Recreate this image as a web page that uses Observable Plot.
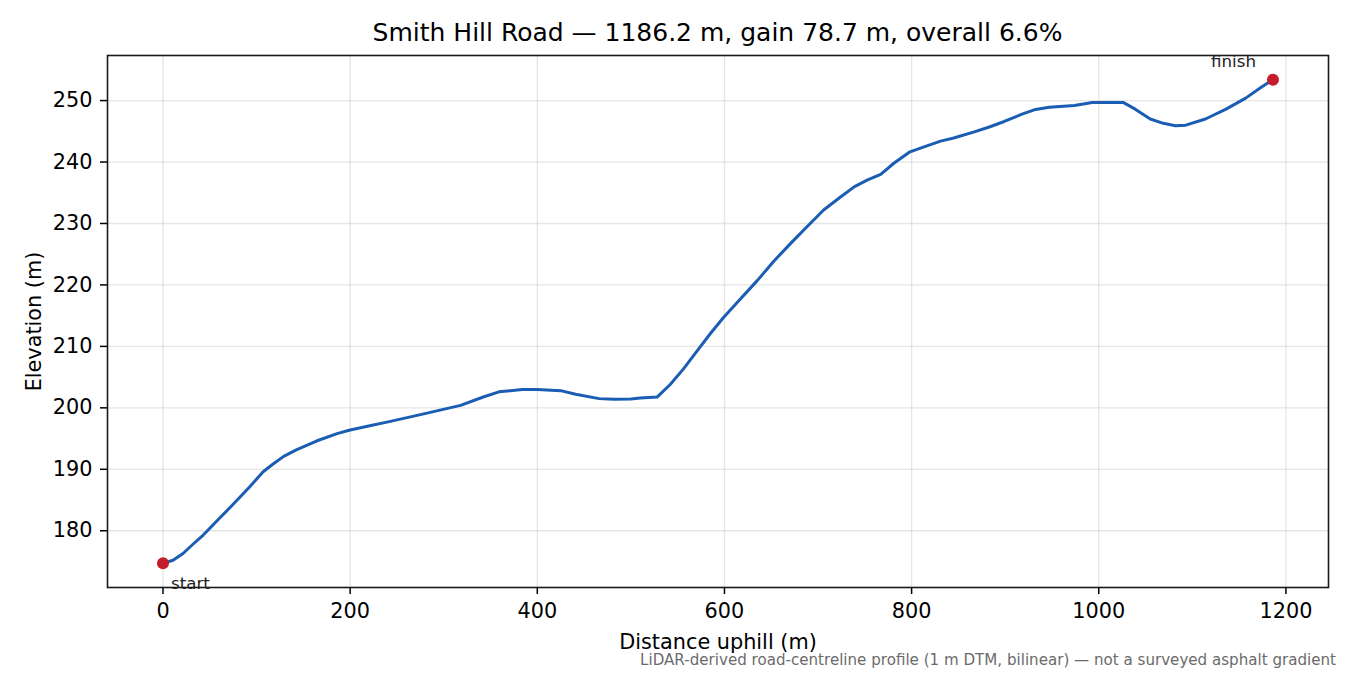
<!DOCTYPE html>
<html>
<head>
<meta charset="utf-8">
<script src="https://cdn.jsdelivr.net/npm/d3@7"></script>
<script src="https://cdn.jsdelivr.net/npm/@observablehq/plot@0.6"></script>
<style>
  html, body { margin: 0; padding: 0; background: #fff; }
  body { width: 1350px; height: 675px; overflow: hidden; font-family: "DejaVu Sans", sans-serif; position: relative; }
  #title { position: absolute; left: 107px; width: 1221px; top: 18px; text-align: center; font-size: 25px; color: #000; line-height: 30px; z-index: 2; white-space: nowrap; }
  #chart { position: absolute; left: 0; top: 40px; z-index: 1; }
  #caption { position: absolute; right: 14px; top: 651px; font-size: 15.1px; line-height: 18px; color: #6b6b6b; white-space: nowrap; z-index: 2; }
</style>
</head>
<body>
<div id="title">Smith Hill Road — 1186.2 m, gain 78.7 m, overall 6.6%</div>
<div id="chart"></div>
<div id="caption">LiDAR-derived road-centreline profile (1 m DTM, bilinear) — not a surveyed asphalt gradient</div>
<script>
const distance = [0, 10.7, 21.4, 32, 43, 57, 75, 93, 107, 118, 129, 143, 164, 186, 200, 221, 243, 281, 318, 343, 359, 384, 400, 425, 441, 466, 482, 500, 510, 528, 542, 556, 571, 585, 599, 617, 635, 653, 671, 689, 706, 724, 739, 753, 767, 781, 797.5, 814, 831, 845, 867, 883, 899, 918, 931, 947, 974, 993, 1007, 1026, 1039, 1055, 1069, 1082, 1093, 1114, 1136, 1157, 1174, 1186.2];
const elevation = [174.7, 175.2, 176.3, 177.8, 179.3, 181.5, 184.3, 187.2, 189.6, 190.9, 192.1, 193.2, 194.6, 195.8, 196.4, 197.1, 197.8, 199.1, 200.4, 201.8, 202.6, 203.0, 203.0, 202.8, 202.2, 201.5, 201.4, 201.45, 201.6, 201.75, 203.8, 206.3, 209.3, 212.1, 214.7, 217.7, 220.7, 223.9, 226.8, 229.6, 232.2, 234.3, 236.0, 237.1, 238.0, 239.8, 241.6, 242.5, 243.4, 243.9, 244.9, 245.7, 246.6, 247.8, 248.5, 248.9, 249.2, 249.7, 249.7, 249.7, 248.6, 247.0, 246.3, 245.9, 246.0, 247.0, 248.6, 250.4, 252.2, 253.4];
const xTicks = [0, 200, 400, 600, 800, 1000, 1200];
const yTicks = [180, 190, 200, 210, 220, 230, 240, 250];
const endpointLabels = ["start", "finish"];

const profile = distance.map((d, i) => ({d, e: elevation[i]}));
const first = profile[0], last = profile[profile.length - 1];
const endpoints = [
  {d: first.d, e: first.e, label: endpointLabels[0]},
  {d: last.d, e: last.e, label: endpointLabels[1]}
];
const xPad = (last.d - first.d) * 0.05;
const eMin = d3.min(elevation), eMax = d3.max(elevation);
const yPad = (eMax - eMin) * 0.05;
const fmt = d3.format("d");

const chart = Plot.plot({
  width: 1350,
  height: 610,
  marginLeft: 107,
  marginRight: 22,
  marginTop: 15,
  marginBottom: 63,
  style: {fontFamily: "DejaVu Sans, sans-serif", fontSize: "20.8px", color: "#000", background: "transparent", overflow: "visible"},
  x: {domain: [first.d - xPad, last.d + xPad], ticks: xTicks},
  y: {domain: [eMin - yPad, eMax + yPad], ticks: yTicks},
  marks: [
    Plot.gridX(xTicks, {stroke: "#cfcfcf", strokeOpacity: 0.55, strokeWidth: 1.3}),
    Plot.gridY(yTicks, {stroke: "#cfcfcf", strokeOpacity: 0.55, strokeWidth: 1.3}),
    Plot.axisX(xTicks, {tickSize: 7, tickPadding: 9, strokeWidth: 1.5, tickFormat: fmt, label: "Distance uphill (m)", labelAnchor: "center", labelArrow: "none", labelOffset: 61, fontSize: "20.8px"}),
    Plot.axisY(yTicks, {tickSize: 7, tickPadding: 8, strokeWidth: 1.5, tickFormat: fmt, label: "Elevation (m)", labelAnchor: "center", labelArrow: "none", labelOffset: 81, fontSize: "20.8px"}),
    Plot.frame({stroke: "#1a1a1a", strokeWidth: 1.6}),
    Plot.line(profile, {x: "d", y: "e", stroke: "#1a5db3", strokeWidth: 3, strokeLinejoin: "round", strokeLinecap: "round"}),
    Plot.dot(endpoints, {x: "d", y: "e", r: 6, fill: "#c41c2a", stroke: "none"}),
    Plot.text(endpoints.slice(0, 1), {x: "d", y: "e", text: "label", dx: 8, dy: 20, textAnchor: "start", fontSize: 16.7, fill: "#222"}),
    Plot.text(endpoints.slice(1), {x: "d", y: "e", text: "label", dx: -17, dy: -18, textAnchor: "end", fontSize: 16.7, fill: "#222"})
  ]
});
document.getElementById("chart").appendChild(chart);
</script>
</body>
</html>
